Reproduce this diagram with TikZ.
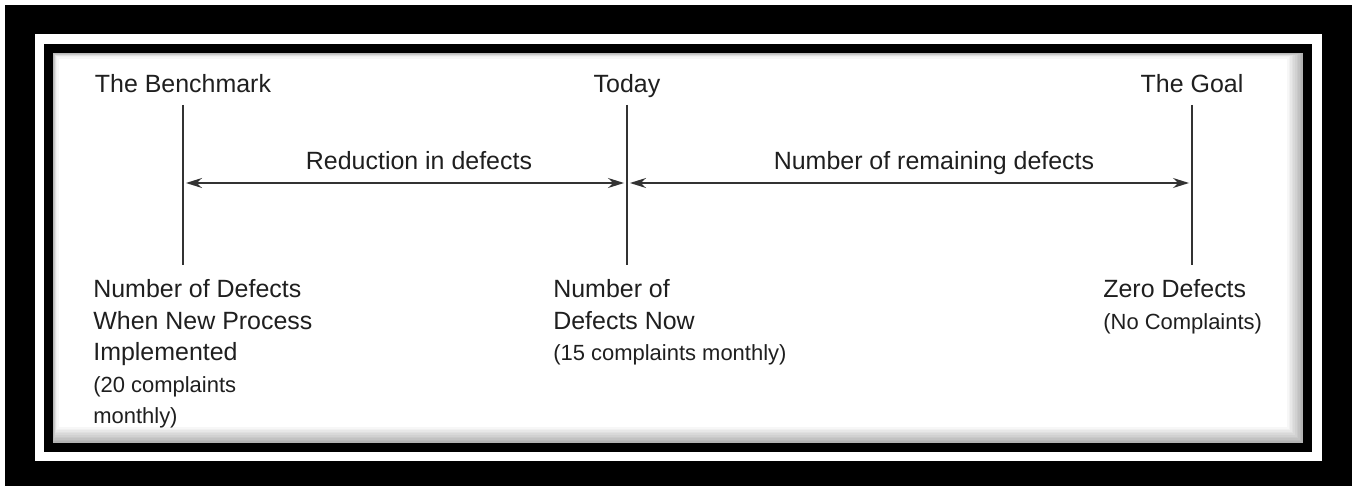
\documentclass[tikz,border=0pt]{standalone}
\usepackage{fontspec}
\setmainfont{Liberation Sans}
\usetikzlibrary{arrows.meta}

\newcommand{\bigtxt}{\fontsize{14.2}{18}\selectfont}
\newcommand{\smalltxt}{\fontsize{12.5}{18}\selectfont}

\begin{document}
\begin{tikzpicture}[x=0.02cm, y=-0.02cm,
    tick/.style={line width=1.1pt, draw=black!80},
    span/.style={line width=0.9pt, draw=black!80,
        {Stealth[length=0.32cm,width=0.2cm]}-{Stealth[length=0.32cm,width=0.2cm]},
        shorten <=1.7pt, shorten >=1.7pt},
    toplbl/.style={anchor=base, inner sep=0pt, text=black!88, font=\bigtxt},
    botlbl/.style={anchor=north west, inner sep=0pt, align=left, text=black!88, font=\bigtxt}]
    \useasboundingbox (0,0) rectangle (1352,486);

    % Frame round the figure
    \fill[white] (0,0) rectangle (1352,486);
    \fill[black] (5,5) rectangle (1352,486);
    \fill[white] (35,34) rectangle (1322,461);
    \fill[black] (44,44) rectangle (1312,452);
    \fill[white] (54,54) rectangle (1302,442);
    \foreach \i in {0,...,9} {
        \pgfmathsetmacro{\shade}{30-3*\i}
        \draw[black!\shade, line width=1.2pt] (54+0.4*\i,54+0.4*\i) rectangle (1302-1.6*\i,442-1.6*\i);
    }

    % Time line marks
    \node[toplbl] (bench) at (183,93) {The Benchmark};
    \node[toplbl] (today) at (627,93) {Today};
    \node[toplbl] (goal) at (1192,93) {The Goal};
    \foreach \n/\x in {bm/183, td/627, gl/1192} {
        \coordinate (\n top) at (\x,105);
        \coordinate (\n mid) at (\x,183);
        \coordinate (\n bot) at (\x,265);
        \draw[tick] (\n top) -- (\n bot);
    }

    % Spans between the marks
    \draw[span] (bmmid) -- (tdmid);
    \draw[span] (tdmid) -- (glmid);
    \node[toplbl] (reduce) at (419,170) {Reduction in defects};
    \node[toplbl] (remain) at (934,170) {Number of remaining defects};

    % Notes under the marks
    \node[botlbl] (benchnote) at (93,279) {Number of Defects\\When New Process\\Implemented\\\smalltxt(20 complaints\\\smalltxt monthly)};
    \node[botlbl] (todaynote) at (553,279) {Number of\\Defects Now\\\smalltxt(15 complaints monthly)};
    \node[botlbl] (goalnote) at (1103,279) {Zero Defects\\\smalltxt(No Complaints)};
\end{tikzpicture}
\end{document}
